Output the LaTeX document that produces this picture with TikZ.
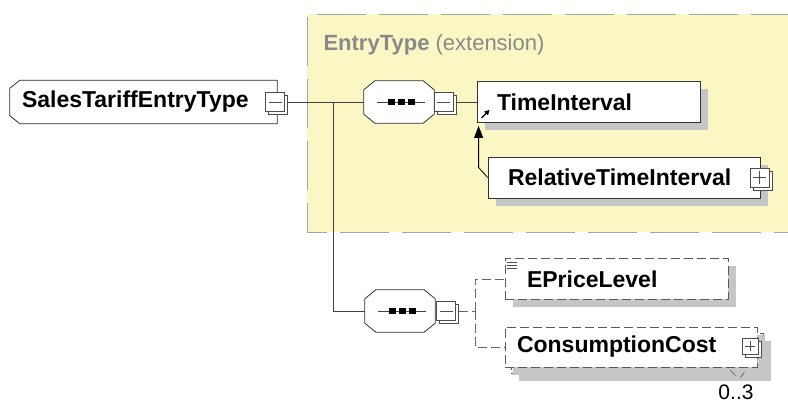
\documentclass[tikz,border=0pt]{standalone}
\usepackage{fontspec}
\setmainfont{Liberation Sans}
\usetikzlibrary{arrows.meta, positioning, shadows, backgrounds}
\definecolor{xsdyellow}{RGB}{250,247,196}
\definecolor{xsdborder}{RGB}{165,165,165}
\definecolor{xsdshadow}{RGB}{198,198,200}
\definecolor{xsdtitle}{RGB}{138,138,138}
% chamfered outline round a node: name, left cut, right cut, vertical cut
\newcommand{\chamfered}[4]{%
  \fill[xsdshadow, shift={(8pt,-8pt)}]
    ([xshift=#2]#1.north west) -- ([xshift=-#3]#1.north east)
    -- ([yshift=-#4]#1.north east) -- ([yshift=#4]#1.south east)
    -- ([xshift=-#3]#1.south east) -- ([xshift=#2]#1.south west)
    -- ([yshift=#4]#1.south west) -- ([yshift=-#4]#1.north west) -- cycle;
  \filldraw[fill=white, draw=black!80, line width=0.8pt]
    ([xshift=#2]#1.north west) -- ([xshift=-#3]#1.north east)
    -- ([yshift=-#4]#1.north east) -- ([yshift=#4]#1.south east)
    -- ([xshift=-#3]#1.south east) -- ([xshift=#2]#1.south west)
    -- ([yshift=#4]#1.south west) -- ([yshift=-#4]#1.north west) -- cycle;}

\begin{document}
\begin{tikzpicture}[
  x=1pt, y=-1pt,
  boxshadow/.style={drop shadow={shadow xshift=8pt, shadow yshift=-8pt,
                    fill=xsdshadow, opacity=1}},
  elem/.style={rectangle, draw=black!80, fill=white, line width=0.8pt,
               boxshadow, minimum height=41pt, inner xsep=20pt, align=left},
  optelem/.style={elem, draw=black!65, dash pattern=on 9pt off 4pt},
  comp/.style={rectangle, minimum width=70pt, minimum height=42pt, inner sep=0pt},
  tgl/.style={rectangle, draw=black!70, fill=white, line width=0.6pt,
              minimum size=19pt, inner sep=0pt,
              copy shadow={shadow xshift=3pt, shadow yshift=-3pt}},
  tglminus/.style={tgl, path picture={
      \draw[black!70, line width=0.6pt]
        ([xshift=3pt]path picture bounding box.west) --
        ([xshift=-3pt]path picture bounding box.east);}},
  tglplus/.style={tgl, path picture={
      \draw[black!70, line width=0.6pt]
        ([xshift=3pt]path picture bounding box.west) --
        ([xshift=-3pt]path picture bounding box.east)
        ([yshift=-3pt]path picture bounding box.north) --
        ([yshift=3pt]path picture bounding box.south);}},
  conn/.style={draw=black!75, line width=0.8pt},
  optconn/.style={draw=black!60, line width=0.8pt, dash pattern=on 9pt off 4pt},
  every node/.style={font=\fontsize{23}{26}\selectfont\bfseries}
]
  \useasboundingbox (0,0) rectangle (788,403);

  \node[comp, minimum width=267pt, minimum height=43pt, inner xsep=12pt,
        text width=243pt, align=left] (root) at (143.5,102) {SalesTariffEntryType};
  \node[tglminus] (tg0) at (275,102) {};

  \node[anchor=west, text=xsdtitle, font=\fontsize{22}{26}\selectfont] (ttl)
    at (320,45) {\textbf{EntryType} (extension)};
  \node[comp] (c1) at (399,102) {};
  \node[tglminus] (tg1) at (443.5,102) {};
  \node[elem, text width=183pt] (ti) at (588.5,102) {TimeInterval};
  \node[elem, text width=232pt] (rti) at (624,177.5) {RelativeTimeInterval};
  \node[tglplus] (tg3) at (759.5,177.5) {};

  \node[comp] (c2) at (400,311) {};
  \node[tglminus] (tg2) at (446,311) {};
  \node[optelem, inner xsep=22pt, text width=179pt] (ep) at (616.5,279) {EPriceLevel};
  \node[optelem, minimum width=252pt, minimum height=40pt] (ccback) at (637,353) {};
  \node[optelem, drop shadow={opacity=0}, minimum height=40pt, inner xsep=12pt,
        text width=228pt] (cc) at (631,347) {ConsumptionCost};
  \node[tglplus, minimum size=16pt] (tg4) at (750,346) {};
  \node[font=\fontsize{21}{24}\selectfont, inner sep=0pt] (mult) at (736,392) {0..3};

  % extension area and chamfered boxes
  \begin{scope}[on background layer]
    \fill[xsdyellow] (307,14) rectangle (800,232);
    \draw[xsdborder, line width=0.8pt, dash pattern=on 49pt off 13pt]
      (800,14) -- (307,14) -- (307,232) -- (800,232);
    \chamfered{root}{10pt}{0pt}{8pt}
    \chamfered{c1}{11pt}{11pt}{9pt}
    \chamfered{c2}{11pt}{11pt}{9pt}
  \end{scope}

  % connectors
  \coordinate (jn) at (333,102);
  \coordinate (oj) at (475,311);
  \draw[conn] ([xshift=3pt]tg0.east) -- (c1.west);
  \draw[conn] (jn) |- (c2.west);
  \draw[conn] ([xshift=3pt]tg1.east) -- (ti.west);
  \draw[conn, draw=black, -{Triangle[length=12pt,width=9pt]}]
    (rti.west) -- ++(-9,-10) -- ([shift={(2pt,-3pt)}]ti.south west);
  \draw[optconn] ([xshift=3pt]tg2.east) -- (oj);
  \foreach \t in {ep,cc}
    \draw[optconn] (oj) |- (\t.west);

  % sequence symbols
  \foreach \c in {c1,c2} {
    \draw[conn] ([xshift=-22pt]\c.center) -- ([xshift=26pt]\c.center);
    \foreach \dx in {-8,2,12}
      \fill ([xshift=\dx pt]\c.center) +(-3.5,-3) rectangle +(3.5,3);
  }

  % icons
  \draw[line width=1.2pt, -{Triangle[length=5pt,width=5pt]}]
    ([shift={(5pt,5pt)}]ti.south west) -- ([shift={(13pt,13pt)}]ti.south west);
  \foreach \dy in {4,7,10}
    \draw[black!70, line width=0.6pt] ([shift={(2pt,-\dy pt)}]ep.north west)
      -- ([shift={(12pt,-\dy pt)}]ep.north west);
  \draw[black!70, line width=0.6pt]
    ([shift={(-33pt,3pt)}]ccback.south east) -- ([shift={(-28pt,-2pt)}]ccback.south east)
    ([shift={(-23pt,-4pt)}]ccback.south east) -- ([shift={(-19pt,1pt)}]ccback.south east);
\end{tikzpicture}
\end{document}
